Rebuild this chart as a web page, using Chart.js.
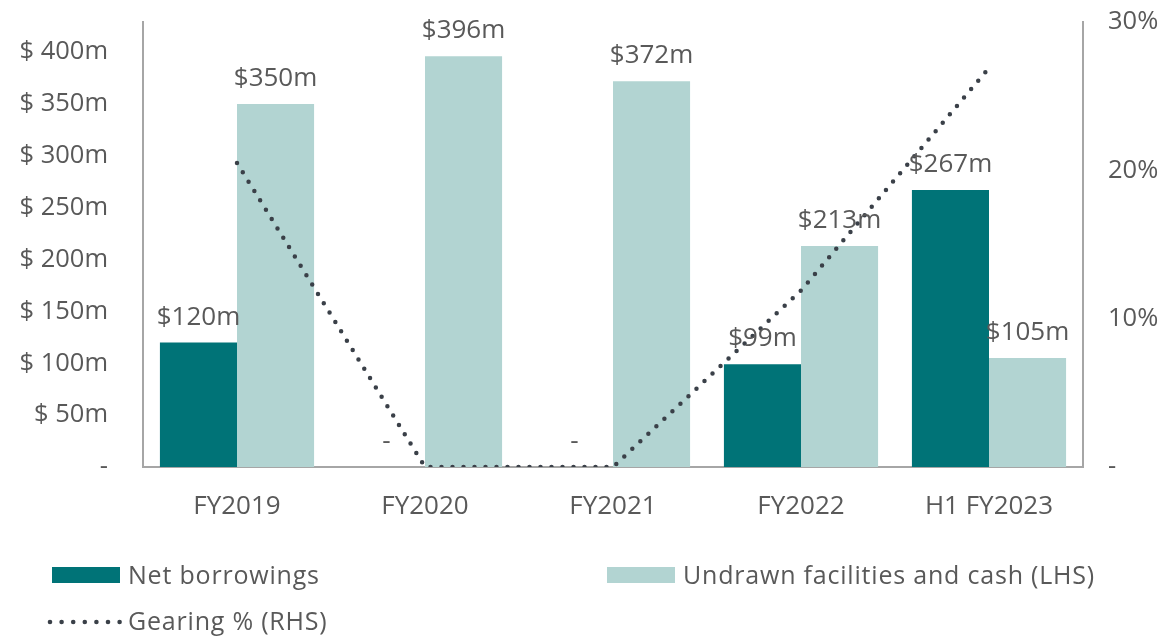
<!DOCTYPE html>
<html><head><meta charset="utf-8">
<script src="https://cdn.jsdelivr.net/npm/chart.js@4.4.1/dist/chart.umd.min.js"></script>
<style>
html,body{margin:0;padding:0;background:#fff;}
#wrap{position:relative;width:1168px;height:641px;}
canvas{position:absolute;left:0;top:0;}
.leg{position:absolute;font-family:"Open Sans",sans-serif;font-size:25px;letter-spacing:0.8px;color:#595959;line-height:1;white-space:nowrap;}
.sw{position:absolute;}
</style></head>
<body><div id="wrap"><canvas id="c" width="1168" height="641"></canvas>
<div class="sw" style="left:52px;top:567px;width:68px;height:16px;background:#007377"></div>
<div class="leg" style="left:128px;top:562px">Net borrowings</div>
<div class="sw" style="left:607px;top:567px;width:68px;height:16px;background:#B2D4D2"></div>
<div class="leg" style="left:683px;top:562px">Undrawn facilities and cash (LHS)</div>
<canvas id="lg" width="80" height="12" style="left:45px;top:616px"></canvas>
<div class="leg" style="left:128px;top:608px">Gearing % (RHS)</div>
</div>
<script>
const categories = ["FY2019","FY2020","FY2021","FY2022","H1 FY2023"];
const netBorrowings = [120, 0, 0, 99, 267];
const undrawn = [350, 396, 372, 213, 105];
const gearing = [20.5, 0, 0, 11.9, 26.9];
const leftTicks = [0,50,100,150,200,250,300,350,400];
const rightTicks = [0,10,20,30];

const FONT = '"Open Sans", sans-serif';
const TXT = '#595959';

(function(){
  const g = document.getElementById('lg').getContext('2d');
  g.fillStyle = '#3A4048';
  for (let i=0;i<7;i++){ g.beginPath(); g.arc(5+i*11.6,6,2.3,0,Math.PI*2); g.fill(); }
})();

const labelPlugin = {
  id:'barLabels',
  afterDatasetsDraw(chart){
    const ctx = chart.ctx;
    ctx.save();
    ctx.font = '26px ' + FONT;
    ctx.fillStyle = TXT;
    ctx.textAlign = 'center';
    ctx.textBaseline = 'alphabetic';
    [1,2].forEach(di=>{
      const meta = chart.getDatasetMeta(di);
      meta.data.forEach((bar,i)=>{
        const v = chart.data.datasets[di].data[i];
        const t = v === 0 ? '-' : '$' + v + 'm';
        ctx.fillText(t, bar.x, bar.y - 18);
      });
    });
    const xs = chart.scales.x;
    ctx.font = '26px ' + FONT;
    chart.data.labels.forEach((lab,i)=>{
      ctx.fillText(lab, xs.getPixelForValue(i), 514);
    });
    ctx.restore();
  }
};

new Chart(document.getElementById('c'), {
  data:{
    labels: categories,
    datasets:[
      {type:'line', label:'Gearing % (RHS)', data:gearing, yAxisID:'y2', borderColor:'#3A4048', borderWidth:4.5,
       borderDash:[0,11], borderCapStyle:'round', pointRadius:0, tension:0, fill:false, order:0},
      {type:'bar', label:'Net borrowings', data:netBorrowings, yAxisID:'y', backgroundColor:'#007377',
       categoryPercentage:0.82, barPercentage:1.0, order:1},
      {type:'bar', label:'Undrawn facilities and cash (LHS)', data:undrawn, yAxisID:'y', backgroundColor:'#B2D4D2',
       categoryPercentage:0.82, barPercentage:1.0, order:1}
    ]
  },
  options:{
    responsive:false, animation:false,
    layout:{padding:{top:22,left:0,right:0,bottom:0}},
    plugins:{legend:{display:false}, tooltip:{enabled:false}},
    scales:{
      x:{
        grid:{display:false, drawTicks:false},
        border:{color:'#A6A6A6', width:2},
        ticks:{display:false},
        afterFit(s){ s.height = 641-22-445; s.paddingLeft=0; s.paddingRight=0; }
      },
      y:{
        position:'left', min:0, max:429,
        grid:{display:false, drawTicks:false},
        border:{color:'#A6A6A6', width:2},
        afterBuildTicks(s){ s.ticks = leftTicks.map(v=>({value:v})); },
        ticks:{color:TXT, font:{family:FONT,size:25.5}, padding:35,
          callback:(v)=> v===0 ? '-' : '$ ' + v + 'm'},
        afterFit(s){ s.width = 143; s.paddingTop=0; s.paddingBottom=0; }
      },
      y2:{
        position:'right', min:0, max:30,
        grid:{display:false, drawTicks:false},
        border:{color:'#A6A6A6', width:2},
        afterBuildTicks(s){ s.ticks = rightTicks.map(v=>({value:v})); },
        ticks:{color:TXT, font:{family:FONT,size:25.5}, padding:25,
          callback:(v)=> v===0 ? '-' : v + '%'},
        afterFit(s){ s.width = 1168-1083; s.paddingTop=0; s.paddingBottom=0; }
      }
    }
  },
  plugins:[labelPlugin]
});
</script></body></html>
